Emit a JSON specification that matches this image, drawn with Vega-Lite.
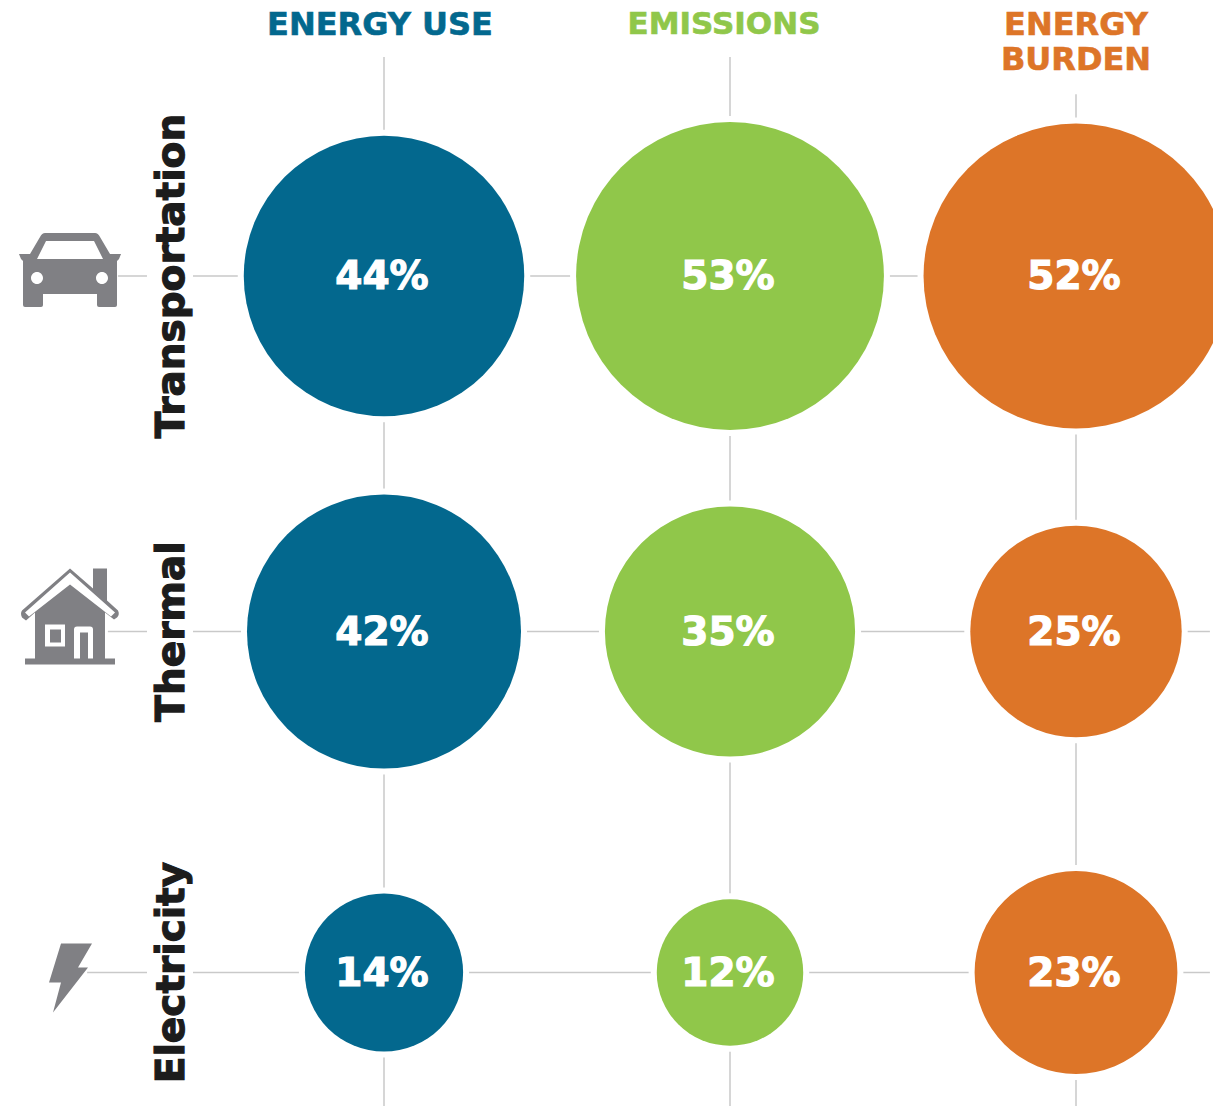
{
"$schema":"https://vega.github.io/schema/vega-lite/v6.json",
"width":1213,"height":1106,"autosize":{"type":"none"},"padding":0,"background":"white",
"config":{"view":{"stroke":null},"axis":{"disable":true},"legend":{"disable":true}},
"datasets":{
"cells":[
{"sector":"Transportation","measure":"Energy use","row":0,"col":0,"share":0.44},
{"sector":"Transportation","measure":"Emissions","row":0,"col":1,"share":0.53},
{"sector":"Transportation","measure":"Energy burden","row":0,"col":2,"share":0.52},
{"sector":"Thermal","measure":"Energy use","row":1,"col":0,"share":0.42},
{"sector":"Thermal","measure":"Emissions","row":1,"col":1,"share":0.35},
{"sector":"Thermal","measure":"Energy burden","row":1,"col":2,"share":0.25},
{"sector":"Electricity","measure":"Energy use","row":2,"col":0,"share":0.14},
{"sector":"Electricity","measure":"Emissions","row":2,"col":1,"share":0.12},
{"sector":"Electricity","measure":"Energy burden","row":2,"col":2,"share":0.23}],
"sectors":[{"sector":"Transportation","row":0},{"sector":"Thermal","row":1},{"sector":"Electricity","row":2}],
"measures":[{"measure":"Energy use","col":0},{"measure":"Emissions","col":1},{"measure":"Energy burden","col":2}]
},
"layer":[
{"data":{"name":"measures"},"transform":[{"filter":"datum.col<2"}],"mark":{"type":"rule","color":"#c9c9c9","strokeWidth":1.5},
 "encoding":{"x":{"field":"col","type":"quantitative","axis":null,"scale":{"domain":[0,2],"range":[384,1076],"nice":false,"zero":false}},
 "y":{"datum":-1,"type":"quantitative","axis":null,"scale":{"domain":[-1,0,1,2,3],"range":[57,276,631.5,972.5,1106],"nice":false,"zero":false}},"y2":{"datum":3}}},
{"data":{"name":"measures"},"transform":[{"filter":"datum.col==2"}],"mark":{"type":"rule","color":"#c9c9c9","strokeWidth":1.5},
 "encoding":{"x":{"field":"col","type":"quantitative"},"y":{"datum":-0.83,"type":"quantitative"},"y2":{"datum":3}}},
{"data":{"name":"sectors"},"mark":{"type":"rule","color":"#c9c9c9","strokeWidth":1.5},
 "encoding":{"y":{"field":"row","type":"quantitative"},"x":{"datum":-0.552,"type":"quantitative"},"x2":{"datum":2.387}}},
{"data":{"name":"sectors"},"transform":[{"filter":"datum.row==0"}],"mark":{"type":"rule","color":"#c9c9c9","strokeWidth":1.5},
 "encoding":{"y":{"field":"row","type":"quantitative"},"x":{"datum":-0.769,"type":"quantitative"},"x2":{"datum":-0.685}}},
{"data":{"name":"sectors"},"transform":[{"filter":"datum.row==1"}],"mark":{"type":"rule","color":"#c9c9c9","strokeWidth":1.5},
 "encoding":{"y":{"field":"row","type":"quantitative"},"x":{"datum":-0.798,"type":"quantitative"},"x2":{"datum":-0.685}}},
{"data":{"name":"sectors"},"transform":[{"filter":"datum.row==2"}],"mark":{"type":"rule","color":"#c9c9c9","strokeWidth":1.5},
 "encoding":{"y":{"field":"row","type":"quantitative"},"x":{"datum":-0.858,"type":"quantitative"},"x2":{"datum":-0.685}}},
{"data":{"name":"cells"},"mark":{"type":"circle","opacity":1,"fill":"white","stroke":"white","strokeWidth":12},
 "encoding":{"x":{"field":"col","type":"quantitative"},"y":{"field":"row","type":"quantitative"},"size":{"field":"share","type":"quantitative","scale":{"domain":[0,1],"range":[0,178800],"zero":true}}}},
{"data":{"name":"cells"},"mark":{"type":"circle","opacity":1},
 "encoding":{"x":{"field":"col","type":"quantitative"},"y":{"field":"row","type":"quantitative"},"size":{"field":"share","type":"quantitative"},
 "color":{"field":"measure","type":"nominal","legend":null,"scale":{"domain":["Energy use","Emissions","Energy burden"],"range":["#03688e","#90c74a","#dd7528"]}}}},
{"data":{"name":"cells"},"mark":{"type":"text","font":"DejaVu Sans","fontWeight":"bold","fontSize":39,"color":"white","stroke":"white","strokeWidth":1.2,"align":"center","baseline":"middle","dx":-2,"dy":1},
 "encoding":{"x":{"field":"col","type":"quantitative"},"y":{"field":"row","type":"quantitative"},"text":{"field":"share","type":"quantitative","format":".0%"}}},
{"data":{"name":"sectors"},"mark":{"type":"text","font":"DejaVu Sans","fontWeight":"bold","fontSize":39,"color":"#1c1c1c","stroke":"#1c1c1c","strokeWidth":1.2,"align":"center","baseline":"middle","angle":270},
 "encoding":{"y":{"field":"row","type":"quantitative"},"x":{"datum":-0.613,"type":"quantitative"},"text":{"field":"sector"}}},
{"data":{"name":"sectors"},"transform":[{"filter":"datum.row==0"}],"mark":{"type":"point","filled":true,"opacity":1,"size":4,"color":"#808084","yOffset":-6,"shape":"M-25,-37 L25,-37 Q28,-37 30,-33 L40,-16 L51,-16 L49,-11 L47,-9 L47,35 Q47,37 45,37 L29,37 Q27,37 27,35 L27,24 L-27,24 L-27,35 Q-27,37 -29,37 L-45,37 Q-47,37 -47,35 L-47,-9 L-49,-11 L-51,-16 L-40,-16 L-30,-33 Q-28,-37 -25,-37 Z M-33,-11 L33,-11 L24,-29 L-24,-29 Z M-39,8 A6,6 0 1,0 -27,8 A6,6 0 1,0 -39,8 Z M26,8 A6,6 0 1,0 38,8 A6,6 0 1,0 26,8 Z"},
 "encoding":{"y":{"field":"row","type":"quantitative"},"x":{"datum":-0.9075,"type":"quantitative"}}},
{"data":{"name":"sectors"},"transform":[{"filter":"datum.row==1"}],"mark":{"type":"point","filled":true,"opacity":1,"size":4,"color":"#808084","yOffset":-15,"shape":"M0,-48 L23,-28 L23,-48 L37,-48 L37,-16 L48,-6 Q50,-2 47,1 L44,3 L35,-4 L35,42 L45,42 L45,48 L-45,48 L-45,42 L-35,42 L-35,-4 L-44,4 L-48,1 Q-50,-3 -48,-6 Z M0,-44 L-45,-4 L-41,0 L0,-32 L41,0 L45,-4 Z M-25,8 L-25,30 L-5,30 L-5,8 Z M-20,13 L-9,13 L-9,26 L-20,26 Z M4,13 L4,42 L10,42 L10,16 L18,16 L18,42 L23,42 L23,13 Q23,10 20,10 L7,10 Q4,10 4,13 Z"},
 "encoding":{"y":{"field":"row","type":"quantitative"},"x":{"datum":-0.9075,"type":"quantitative"}}},
{"data":{"name":"sectors"},"transform":[{"filter":"datum.row==2"}],"mark":{"type":"point","filled":true,"opacity":1,"size":4,"color":"#808084","yOffset":5,"shape":"M-9,-34 L22,-34 L8,-10 L18,-10 L-17,35 L-9,5 L-21,5 Z"},
 "encoding":{"y":{"field":"row","type":"quantitative"},"x":{"datum":-0.9075,"type":"quantitative"}}},
{"data":{"values":[{"label":"ENERGY USE","measure":"Energy use","col":0}]},"mark":{"type":"text","font":"DejaVu Sans","fontWeight":"bold","fontSize":32,"stroke":"#03688e","strokeWidth":0.6,"align":"center","baseline":"middle","dx":-4},
 "encoding":{"x":{"field":"col","type":"quantitative"},"y":{"datum":-1.146,"type":"quantitative"},"text":{"field":"label"},"color":{"field":"measure","type":"nominal"}}},
{"data":{"values":[{"label":"EMISSIONS","measure":"Emissions","col":1}]},"mark":{"type":"text","font":"DejaVu Sans","fontWeight":"bold","fontSize":31,"stroke":"#90c74a","strokeWidth":0.6,"align":"center","baseline":"middle","dx":-6},
 "encoding":{"x":{"field":"col","type":"quantitative"},"y":{"datum":-1.146,"type":"quantitative"},"text":{"field":"label"},"color":{"field":"measure","type":"nominal"}}},
{"data":{"values":[{"label":"ENERGY","measure":"Energy burden","col":2}]},"mark":{"type":"text","font":"DejaVu Sans","fontWeight":"bold","fontSize":32,"stroke":"#dd7528","strokeWidth":0.6,"align":"center","baseline":"middle"},
 "encoding":{"x":{"field":"col","type":"quantitative"},"y":{"datum":-1.146,"type":"quantitative"},"text":{"field":"label"},"color":{"field":"measure","type":"nominal"}}},
{"data":{"values":[{"label":"BURDEN","measure":"Energy burden","col":2}]},"mark":{"type":"text","font":"DejaVu Sans","fontWeight":"bold","fontSize":32,"stroke":"#dd7528","strokeWidth":0.6,"align":"center","baseline":"middle"},
 "encoding":{"x":{"field":"col","type":"quantitative"},"y":{"datum":-0.985,"type":"quantitative"},"text":{"field":"label"},"color":{"field":"measure","type":"nominal"}}}
]
}
